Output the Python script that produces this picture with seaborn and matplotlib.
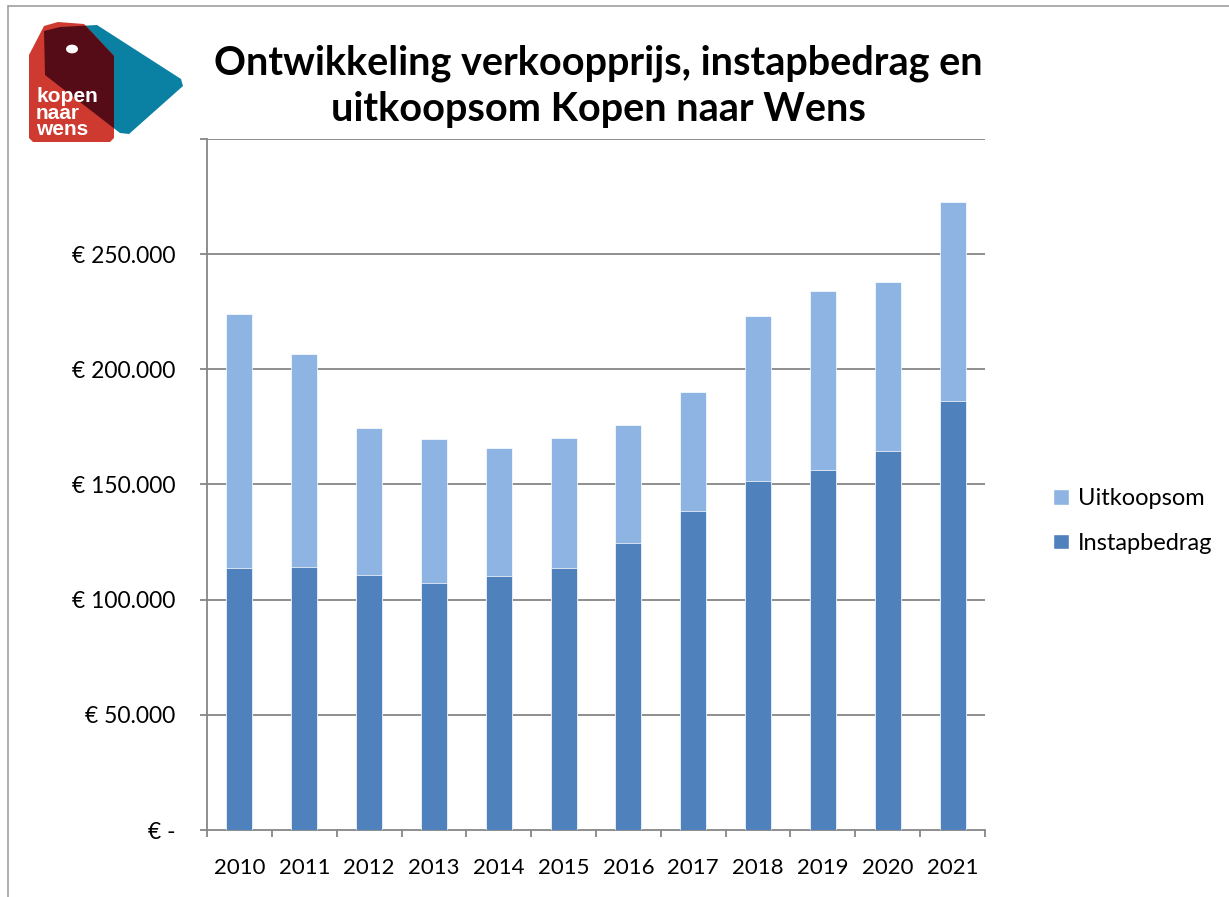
import numpy as np
import pandas as pd
import matplotlib
matplotlib.use("Agg")
import matplotlib.pyplot as plt
import seaborn as sns
from matplotlib.patches import Polygon, Circle
from matplotlib.lines import Line2D
from matplotlib.patches import Patch

years = ["2010", "2011", "2012", "2013", "2014", "2015", "2016", "2017", "2018", "2019", "2020", "2021"]
instapbedrag = [113900, 114000, 110600, 107100, 110100, 113600, 124500, 138700, 151600, 156100, 164400, 186200]
uitkoopsom = [110100, 92700, 63900, 62500, 55600, 56800, 51500, 51400, 71600, 77700, 73600, 86300]
ytick_values = [0, 50000, 100000, 150000, 200000, 250000, 300000]
ytick_labels = ["€ -", "€ 50.000", "€ 100.000", "€ 150.000", "€ 200.000", "€ 250.000", ""]
title = "Ontwikkeling verkoopprijs, instapbedrag en\nuitkoopsom Kopen naar Wens"

dark = "#4F81BD"
light = "#8EB4E3"
grid = "#868686"

sns.set_theme(style="white")
plt.rcParams["font.family"] = ["Lato", "DejaVu Sans"]
plt.rcParams["text.color"] = "black"

df = pd.DataFrame({"jaar": years, "Instapbedrag": instapbedrag, "Uitkoopsom": uitkoopsom})
df["totaal"] = df["Instapbedrag"] + df["Uitkoopsom"]

W, H = 1229, 897
fig = plt.figure(figsize=(W / 100, H / 100), dpi=100)
ax = fig.add_axes([207 / W, 1 - 830 / H, (985 - 207) / W, (830 - 139) / H])

for v in ytick_values[1:]:
    ax.axhline(v, color=grid, lw=1.3, zorder=0)

sns.barplot(data=df, x="jaar", y="totaal", color=light, width=0.4, ax=ax,
            saturation=1, edgecolor="white", linewidth=0.5, zorder=2)
sns.barplot(data=df, x="jaar", y="Instapbedrag", color=dark, width=0.4, ax=ax,
            saturation=1, edgecolor="white", linewidth=0.5, zorder=3)

ax.set_xlim(-0.5, len(years) - 0.5)
ax.set_ylim(0, 300000)
ax.set_yticks(ytick_values)
ax.set_yticklabels(ytick_labels)
ax.set_xticks(np.arange(len(years) + 1) - 0.5)
ax.set_xticklabels([])
ax.set_xticks(np.arange(len(years)), minor=True)
ax.set_xticklabels(years, minor=True)
ax.set_xlabel("")
ax.set_ylabel("")
ax.tick_params(axis="y", which="major", length=5, width=1.3, color=grid, pad=18,
               labelsize=16.5, labelcolor="black", left=True, direction="out")
ax.tick_params(axis="x", which="major", length=5, width=1.3, color=grid, bottom=True, direction="out")
ax.tick_params(axis="x", which="minor", length=0, pad=20, labelsize=16, labelcolor="black", bottom=True)
for s in ["top", "right"]:
    ax.spines[s].set_visible(False)
for s in ["left", "bottom"]:
    ax.spines[s].set_color(grid)
    ax.spines[s].set_linewidth(1.3)

handles = [Patch(facecolor=light, label="Uitkoopsom"), Patch(facecolor=dark, label="Instapbedrag")]
fig.legend(handles=handles, loc="center left", bbox_to_anchor=(1032 / W, 1 - 521 / H),
           frameon=False, fontsize=17, handlelength=0.65, handleheight=0.65,
           handletextpad=0.4, labelspacing=1.0, labelcolor="black")

fig.text(598 / W, 1 - 86 / H, title, ha="center", va="center", fontsize=28.5,
         fontweight="bold", linespacing=1.3, color="black")

# frame lines
fig.add_artist(Line2D([8 / W, 1.0], [1 - 6 / H, 1 - 6 / H], color="#A0A0A0", lw=1.2))
fig.add_artist(Line2D([8 / W, 8 / W], [0, 1 - 6 / H], color="#A0A0A0", lw=1.2))

# logo
def P(x, y):
    return (x / W, 1 - y / H)

red_pts = [P(44, 26), P(58, 22), P(84, 24), P(114, 56), P(114, 138), P(110, 142),
           P(33, 142), P(29, 138), P(29, 55)]
blue_pts = [P(44, 31), P(60, 27), P(97, 25), P(181, 79), P(183, 86), P(129, 134),
            P(120, 133), P(45, 75)]
red = Polygon(red_pts, closed=True, transform=fig.transFigure, facecolor="#CF3A30", edgecolor="none")
blue = Polygon(blue_pts, closed=True, transform=fig.transFigure, facecolor="#0A80A3", edgecolor="none")
fig.add_artist(blue)
fig.add_artist(red)
over = Polygon(blue_pts, closed=True, transform=fig.transFigure, facecolor="#560C16", edgecolor="none")
fig.add_artist(over)
over.set_clip_path(Polygon(red_pts, closed=True, transform=fig.transFigure))
hole = Circle(P(72, 49), 6 / W, transform=fig.transFigure, facecolor="white", edgecolor="none")
fig.add_artist(hole)
fig.text(36 / W, 1 - 113 / H, "kopen\nnaar\nwens", color="white", fontsize=15,
         fontweight="bold", family=["Liberation Sans", "DejaVu Sans"], ha="left", va="center",
         linespacing=0.85)

fig.savefig("out.png", dpi=100)
